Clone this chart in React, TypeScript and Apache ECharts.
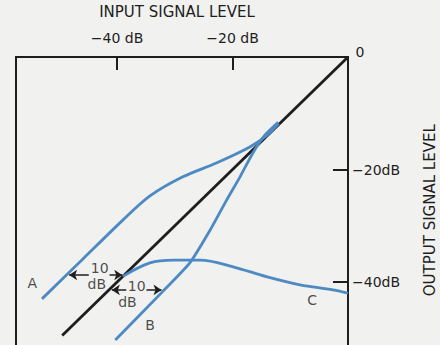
import React, { useEffect, useRef } from "react";
import * as echarts from "echarts";

// Axis ticks (dB)
const xTickValues = [-40, -20];
const yTickValues = [-20, -40];

// Curves: [input dB, output dB]
const diagonal = [[-49.5, -49.5], [0, 0]];
const curveA = [[-53, -43], [-46, -36], [-39, -29], [-34.3, -24.7], [-28.6, -21.3], [-22.7, -18.8], [-17, -16], [-14, -13.9], [-12, -11.8]];
const curveB = [[-40.3, -50.3], [-32.2, -41.8], [-27.4, -36.6], [-23.9, -30.8], [-21, -25.4], [-18.7, -21.3], [-16.5, -17.1], [-14.4, -13.9], [-12.1, -11.6]];
const curveC = [[-39, -39], [-34.3, -36.6], [-30.3, -36.1], [-25.6, -36.1], [-19.9, -37.3], [-14, -39.1], [-8.3, -40.5], [-2.6, -41.4], [0, -42]];

// Curve name labels
const curveNames = ["A", "B", "C"];
const curveNamePos = [[-54.7, -40.2], [-34.3, -47.6], [-6.2, -43.2]];

// "10 dB" gap annotations
const gapTexts = ["10", "dB", "10", "dB"];
const gapTextPos = [[-43.0, -37.5], [-43.5, -40.3], [-36.6, -40.7], [-38.2, -43.6]];
// arrow segments: [from, tip]
const arrowSegments = [
  [[-44.9, -38.75], [-48.3, -38.75]],
  [[-41.3, -38.75], [-39.1, -38.75]],
  [[-38.4, -41.4], [-40.9, -41.4]],
  [[-34.9, -41.4], [-32.3, -41.4]],
];

const BLUE = "#4d89c3";
const INK = "#1e1e1e";
const FONT = "DejaVu Sans";

export default function App() {
  const ref = useRef<HTMLDivElement>(null);
  useEffect(() => {
    if (!ref.current) return;
    const chart = echarts.init(ref.current, undefined, { renderer: "svg" });
    const lineSeries = (data: number[][], color: string, smooth: number) => ({
      type: "line",
      data,
      showSymbol: false,
      smooth,
      lineStyle: { color, width: 2.8 },
      silent: true,
    });
    const txt = (size: number) => ({ fontSize: size, color: INK, fontFamily: FONT });
    chart.setOption({
      animation: false,
      backgroundColor: "transparent",
      textStyle: { fontFamily: FONT },
      grid: {
        left: 16,
        top: 57,
        width: 332,
        height: 292.5,
        containLabel: false,
        outerBoundsMode: "none",
        show: true,
        borderColor: INK,
        borderWidth: 2,
        backgroundColor: "transparent",
      },
      xAxis: {
        type: "value",
        position: "top",
        min: -57.5,
        max: 0,
        name: "INPUT SIGNAL LEVEL",
        nameLocation: "middle",
        nameGap: 38,
        nameTextStyle: { ...txt(15), padding: [0, 10, 0, 0] },
        axisLine: { show: false },
        splitLine: { show: false },
        axisTick: { show: true, inside: true, length: 13, customValues: xTickValues, lineStyle: { color: INK, width: 2 } },
        axisLabel: {
          customValues: xTickValues,
          margin: 12,
          ...txt(14),
          formatter: (v: number) => `\u2212${Math.abs(v)} dB`,
        },
      },
      yAxis: {
        type: "value",
        position: "right",
        min: -52,
        max: 0,
        name: "OUTPUT SIGNAL LEVEL",
        nameLocation: "middle",
        nameRotate: 90,
        nameGap: 74,
        nameTextStyle: { ...txt(15), padding: [0, 14, 0, 0] },
        axisLine: { show: false },
        splitLine: { show: false },
        axisTick: { show: true, inside: true, length: 15, customValues: yTickValues, lineStyle: { color: INK, width: 2 } },
        axisLabel: {
          customValues: yTickValues,
          margin: 4,
          ...txt(14),
          formatter: (v: number) => `\u2212${Math.abs(v)}dB`,
        },
      },
      graphic: [
        {
          type: "text",
          x: 360,
          y: 52,
          style: { text: "0", fontSize: 14, fill: INK, fontFamily: FONT, align: "center", verticalAlign: "middle" },
        },
      ],
      series: [
        lineSeries(diagonal, INK, 0),
        lineSeries(curveA, BLUE, 0.3),
        lineSeries(curveB, BLUE, 0.2),
        lineSeries(curveC, BLUE, 0.35),
        {
          type: "lines",
          coordinateSystem: "cartesian2d",
          polyline: false,
          symbol: ["none", "arrow"],
          symbolSize: 8,
          lineStyle: { color: INK, width: 1.6, opacity: 1 },
          data: arrowSegments.map((c) => ({ coords: c })),
          silent: true,
        },
        {
          type: "scatter",
          symbolSize: 1,
          itemStyle: { color: "transparent" },
          label: { show: true, position: "inside", formatter: "{b}", ...txt(14) },
          data: curveNames.map((n, i) => ({ name: n, value: curveNamePos[i] })),
          silent: true,
        },
        {
          type: "scatter",
          symbolSize: 1,
          itemStyle: { color: "transparent" },
          label: { show: true, position: "inside", formatter: "{b}", ...txt(14) },
          data: gapTexts.map((n, i) => ({ name: n, value: gapTextPos[i] })),
          silent: true,
        },
      ],
    });
    return () => chart.dispose();
  }, []);
  return (
    <div
      ref={ref}
      style={{ position: "absolute", left: 0, top: 0, width: 440, height: 345, background: "#f1f1ef" }}
    />
  );
}
